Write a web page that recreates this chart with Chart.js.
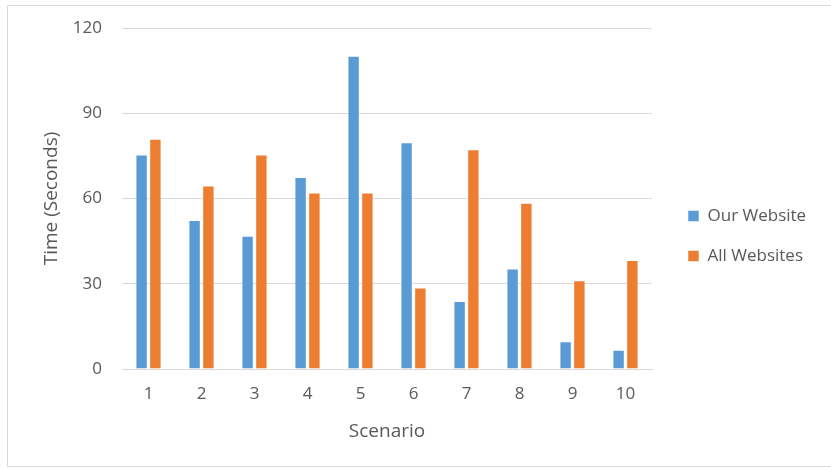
<!DOCTYPE html>
<html>
<head>
<meta charset="utf-8">
<script src="https://cdn.jsdelivr.net/npm/chart.js@4"></script>
<style>
  html, body { margin: 0; padding: 0; background: #ffffff; }
  #frame { position: absolute; left: 7px; top: 5px; width: 830px; height: 462px; border: 1px solid #d9d9d9; box-sizing: border-box; }
  #wrap { position: absolute; left: 0; top: 0; width: 831px; height: 470px; }
</style>
</head>
<body>
<div id="frame"></div>
<div id="wrap"><canvas id="chart" width="831" height="470"></canvas></div>
<script>
// Response times per test scenario
const scenarios = ['1', '2', '3', '4', '5', '6', '7', '8', '9', '10'];
const ourWebsite = [75.5, 52.4, 46.9, 67.6, 110.2, 79.8, 23.9, 35.4, 9.8, 6.8];
const allWebsites = [81.0, 64.6, 75.5, 62.1, 62.1, 28.7, 77.3, 58.5, 31.2, 38.4];
const yTicks = [0, 30, 60, 90, 120];

const FONT = 'Open Sans';
const TEXT = '#595959';
const GRID = '#d9d9d9';

// Fixed legend column width, shifted a little right of the plot edge
const legendSizing = {
  id: 'legendSizing',
  beforeInit(chart) {
    const fit = chart.legend.fit;
    chart.legend.fit = function () {
      fit.call(this);
      this.width = 170;
    };
  },
  afterLayout(chart) {
    const shiftY = 216 - (chart.legend.top + chart.legend.bottom) / 2 + 20;
    chart.legend.left += 13;
    chart.legend.right += 13;
    chart.legend.top += shiftY;
    chart.legend.bottom += shiftY;
  }
};

new Chart(document.getElementById('chart'), {
  type: 'bar',
  data: {
    labels: scenarios,
    datasets: [
      { label: 'Our Website', data: ourWebsite, backgroundColor: '#5B9BD5', borderColor: 'rgba(255,255,255,0.5)', borderWidth: 1 },
      { label: 'All Websites', data: allWebsites, backgroundColor: '#ED7D31', borderColor: 'rgba(255,255,255,0.5)', borderWidth: 1 }
    ]
  },
  options: {
    responsive: false,
    animation: false,
    layout: { padding: { left: 30, right: 9, top: 28, bottom: 20 } },
    datasets: { bar: { categoryPercentage: 0.52, barPercentage: 0.9 } },
    plugins: {
      tooltip: { enabled: false },
      legend: {
        position: 'right',
        labels: {
          boxWidth: 11, boxHeight: 11, padding: 23,
          color: TEXT,
          font: { family: FONT, size: 17 }
        }
      }
    },
    scales: {
      x: {
        grid: { display: false, drawTicks: false },
        border: { color: GRID },
        ticks: { color: TEXT, font: { family: FONT, size: 17 }, padding: 15 },
        title: { display: true, text: 'Scenario', color: TEXT, font: { family: FONT, size: 19 }, padding: { top: 0, bottom: 7 } },
        afterFit(s) { s.height = 81; }
      },
      y: {
        min: 0, max: 120,
        afterBuildTicks(s) { s.ticks = yTicks.map(v => ({ value: v })); },
        grid: { color: GRID, drawTicks: false },
        border: { display: false },
        ticks: { color: TEXT, font: { family: FONT, size: 17 }, padding: 20 },
        title: { display: true, text: 'Time (Seconds)', color: TEXT, font: { family: FONT, size: 19 }, padding: { top: 10, bottom: 0 } },
        afterFit(s) {
          s.width = 92;
          // plot top/bottom come from the layout padding, not the label gap
          s.paddingTop = 0;
          s.paddingBottom = 0;
        }
      }
    }
  },
  plugins: [legendSizing]
});
</script>
</body>
</html>
